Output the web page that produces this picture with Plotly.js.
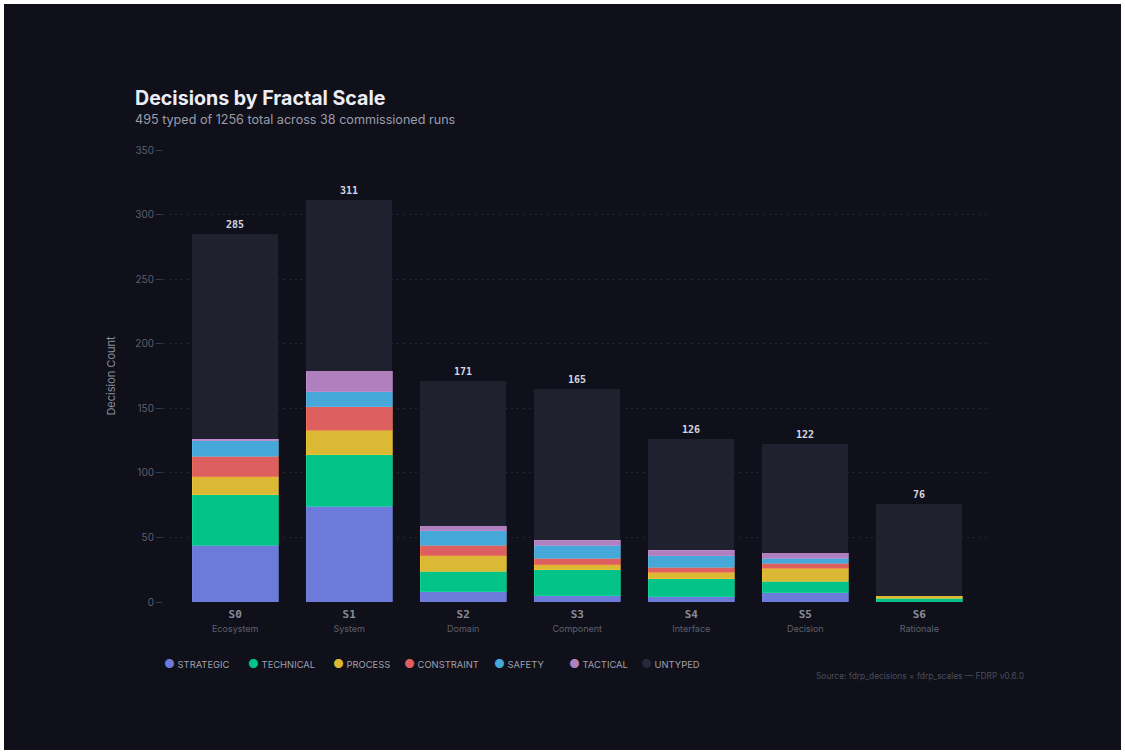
<!DOCTYPE html>
<html>
<head>
<meta charset="utf-8">
<script src="https://cdn.plot.ly/plotly-3.0.1.min.js"></script>
<style>
  html, body { margin: 0; padding: 0; background: #ffffff; }
  #wrap { position: absolute; left: 4px; top: 4px; width: 1117px; height: 746px; background: #0f1019; }
  #chart { width: 1117px; height: 746px; }
</style>
</head>
<body>
<div id="wrap"><div id="chart"></div></div>
<script>
// ---- data ----
const scales = ["S0", "S1", "S2", "S3", "S4", "S5", "S6"];
const scaleNames = ["Ecosystem", "System", "Domain", "Component", "Interface", "Decision", "Rationale"];
const totals = [285, 311, 171, 165, 126, 122, 76];

const strategic  = [44, 74, 8, 5, 4, 7, 0];
const technical  = [39, 40, 16, 20, 14, 9, 3];
const process    = [14, 19, 12, 4, 5, 10, 2];
const constraint = [16, 18, 8, 5, 4, 4, 0];
const safety     = [12, 12, 11, 10, 9, 4, 0];
const tactical   = [1, 16, 4, 4, 4, 4, 0];

const seriesNames = ["STRATEGIC", "TECHNICAL", "PROCESS", "CONSTRAINT", "SAFETY", "TACTICAL", "UNTYPED"];
const seriesColors = ["#6c7ad9", "#03c389", "#dbb935", "#dd5f5f", "#45a8d8", "#b07fbd", "#20212f"];
const legendDotColors = ["#6c7ad9", "#03c389", "#dbb935", "#dd5f5f", "#45a8d8", "#b07fbd", "#262838"];
const legendWidths = [39, 40, 26, 45, 30, 27, 75];

const typedSeries = [strategic, technical, process, constraint, safety, tactical];
const untyped = totals.map((t, i) => t - typedSeries.reduce((s, arr) => s + arr[i], 0));
const allSeries = typedSeries.concat([untyped]);

const lineColors = ["#7885e0", "#1fd79b", "#f0c640", "#f07a5a", "#5db6e0", "#c48fd0", "#20212f"];

const traces = [];
allSeries.forEach((vals, k) => {
  traces.push({
    type: "bar",
    name: seriesNames[k],
    x: scales,
    y: vals,
    marker: { color: seriesColors[k], line: { color: lineColors[k], width: k === 6 ? 0 : 0.7 } },
    legendgroup: seriesNames[k],
    showlegend: false,
    hoverinfo: "skip"
  });
});
// legend entries: coloured dot as text, symbol hidden
seriesNames.forEach((n, k) => {
  traces.push({
    type: "scatter",
    mode: "none",
    name: "<span style='fill:" + legendDotColors[k] + ";font-size:12px'>●</span> " + n,
    x: [null],
    y: [null],
    legendgroup: n,
    legendwidth: legendWidths[k],
    showlegend: true,
    hoverinfo: "skip"
  });
});

const tickText = scales.map((s, i) =>
  "<span style='font-family:\"DejaVu Sans Mono\", monospace;font-weight:bold;font-size:11px;fill:#8b8c9a'>" + s +
  "</span><br><span style='font-size:9px;fill:#5f606e'>" + scaleNames[i] + "</span>");

const annotations = totals.map((t, i) => ({
  x: scales[i], y: t, xref: "x", yref: "y",
  text: String(t), showarrow: false, yanchor: "bottom", yshift: 2,
  font: { family: "DejaVu Sans Mono, monospace", size: 10, color: "#d6d6e0", weight: "bold" }
}));

annotations.push({
  xref: "paper", yref: "paper", x: -0.036, y: 1.115, xanchor: "left", yanchor: "middle",
  text: "<b>Decisions by Fractal Scale</b>", showarrow: false,
  font: { family: "Inter, sans-serif", size: 19.6, color: "#ececf4" }
});
annotations.push({
  xref: "paper", yref: "paper", x: -0.036, y: 1.068, xanchor: "left", yanchor: "middle",
  text: "495 typed of 1256 total across 38 commissioned runs", showarrow: false,
  font: { family: "Inter, sans-serif", size: 12.6, color: "#9c9cab" }
});
annotations.push({
  xref: "paper", yref: "paper", x: 1.046, y: -0.164, xanchor: "right", yanchor: "middle",
  text: "Source: fdrp_decisions × fdrp_scales — FDRP v0.6.0", showarrow: false,
  font: { family: "Inter, sans-serif", size: 8.4, color: "#4c4d5c" }
});

const layout = {
  width: 1117, height: 746,
  paper_bgcolor: "#0f1019",
  plot_bgcolor: "#0f1019",
  margin: { l: 159, r: 133, t: 146, b: 148 },
  barmode: "stack",
  bargap: 0.246,
  font: { family: "Inter, sans-serif", color: "#8b8c9a" },
  showlegend: true,
  legend: {
    orientation: "h", x: -0.0473, y: -0.137, xanchor: "left", yanchor: "middle",
    font: { family: "Inter, sans-serif", size: 9.4, color: "#a0a0ae" },
    bgcolor: "rgba(0,0,0,0)", itemwidth: 30, tracegroupgap: 0
  },
  xaxis: {
    type: "category",
    range: [-0.633, 6.602],
    tickmode: "array", tickvals: scales, ticktext: tickText,
    showgrid: false, zeroline: false, showline: false,
    ticks: "", ticklabelstandoff: 4,
    tickfont: { family: "Inter, sans-serif", size: 11, color: "#8b8c9a" }
  },
  yaxis: {
    range: [0, 350],
    tickvals: [0, 50, 100, 150, 200, 250, 300, 350],
    showgrid: true, gridcolor: "#252634", griddash: "2px,4px", gridwidth: 1,
    zeroline: false, showline: false,
    ticks: "outside", ticklen: 6, tickcolor: "#3a3b4a", tickwidth: 1,
    tickfont: { family: "Inter, sans-serif", size: 10, color: "#5e5f6e" },
    title: { text: "Decision Count", font: { family: "Inter, sans-serif", size: 11, color: "#8b8c9a" }, standoff: 17 }
  },
  annotations: annotations
};

Plotly.newPlot("chart", traces, layout, { displayModeBar: false, staticPlot: true });
</script>
</body>
</html>
